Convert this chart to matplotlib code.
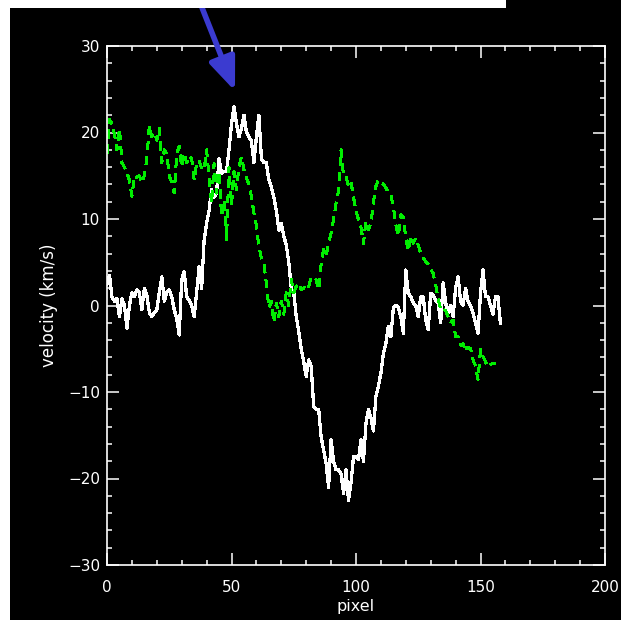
import numpy as np
import matplotlib
matplotlib.use("Agg")
import matplotlib.pyplot as plt
from matplotlib.patches import Rectangle
from matplotlib.ticker import MultipleLocator

# velocidade ao longo da fenda (linha branca) e segunda componente (verde tracejada)
pix_branco = np.arange(0, 159)
vel_branco = [
    2.5, 3.5, 1.0, 0.5, 0.8, -1.3, 0.8, 0.0, -2.6, 0.0,
    1.5, 1.0, 1.8, 1.5, -0.5, 2.0, 1.2, -0.8, -1.3, -0.8,
    -0.5, 1.5, 3.3, 0.5, 1.5, 1.8, 1.0, -0.5, -1.5, -3.4,
    3.0, 3.9, 1.0, 0.6, 0.0, -1.3, 1.5, 4.5, 2.0, 7.5,
    9.5, 11.0, 13.4, 12.5, 13.0, 17.0, 15.3, 15.5, 15.5, 18.0,
    21.0, 23.0, 21.0, 19.5, 20.5, 22.0, 20.0, 19.5, 19.0, 16.5,
    19.5, 22.0, 17.0, 16.5, 16.5, 14.5, 13.7, 12.5, 11.0, 8.7,
    9.5, 8.0, 7.0, 5.0, 2.0, 1.5, -1.3, -3.0, -5.0, -6.5,
    -8.2, -6.3, -7.0, -11.7, -12.0, -12.0, -15.2, -16.7, -18.3, -21.0,
    -15.5, -18.0, -19.0, -19.0, -19.5, -21.7, -19.0, -22.5, -20.5, -17.5,
    -17.5, -17.8, -15.5, -18.0, -13.6, -12.0, -13.0, -14.5, -10.5, -9.3,
    -7.8, -5.5, -4.4, -2.4, -3.6, -0.3, 0.0, -0.2, -1.3, -3.2,
    4.1, 1.4, 1.0, 0.3, 0.0, -1.3, 1.0, 1.0, -1.7, -2.8,
    1.4, 1.2, 0.6, 0.3, -2.0, 2.6, 0.3, -0.9, 0.0, -1.3,
    2.0, 3.3, 0.5, 0.0, 2.0, 0.5, 0.0, -0.9, -2.0, -3.2,
    1.4, 4.1, 1.0, 1.0, 0.0, -1.0, 1.0, 1.0, -2.1,
]

pix_verde = np.arange(0, 157)
vel_verde = [
    17.6, 21.5, 21.0, 19.8, 18.0, 20.5, 16.5, 16.0, 15.3, 14.5,
    12.6, 15.0, 14.8, 15.0, 14.2, 15.0, 17.0, 20.8, 19.5, 20.0,
    19.1, 20.5, 16.5, 18.0, 17.5, 15.0, 14.2, 13.0, 17.5, 18.4,
    16.0, 17.6, 16.5, 17.3, 17.0, 14.5, 16.5, 16.8, 15.8, 15.7,
    18.0, 14.7, 11.8, 16.4, 13.0, 15.5, 10.3, 12.2, 7.6, 16.0,
    11.6, 15.5, 13.4, 16.0, 17.2, 15.7, 14.7, 14.0, 12.6, 10.7,
    9.2, 6.8, 5.5, 5.0, 2.5, -0.3, 0.5, -2.0, 0.3, -1.3,
    0.5, -1.0, 1.5, 0.0, 3.0, 1.5, 2.2, 2.6, 1.8, 2.0,
    2.5, 2.2, 3.3, 3.3, 3.0, 1.8, 4.8, 6.5, 5.8, 7.2,
    8.4, 10.0, 11.8, 13.3, 18.0, 15.0, 14.9, 13.8, 14.3, 12.5,
    11.0, 9.9, 9.0, 7.2, 9.8, 8.8, 9.5, 12.0, 13.8, 14.5,
    14.2, 14.0, 13.6, 13.0, 12.8, 11.4, 9.3, 8.0, 10.5, 10.2,
    7.8, 6.3, 8.0, 7.2, 7.8, 7.0, 6.0, 5.5, 5.1, 4.8,
    4.2, 3.7, 2.4, 0.8, -0.5, -0.4, -0.6, -1.3, -2.0, -1.7,
    -3.6, -3.6, -4.6, -4.4, -5.3, -4.8, -5.0, -6.3, -7.0, -8.6,
    -5.1, -5.9, -6.5, -7.1, -6.8, -6.7, -6.7,
]

W, H = 621, 620
fig = plt.figure(figsize=(W / 100, H / 100), dpi=100, facecolor='black')

# faixas brancas da borda (esquerda e topo)
fig.patches.append(Rectangle((0, 0), 10 / W, 1, transform=fig.transFigure,
                             facecolor='white', edgecolor='none', zorder=0))
fig.patches.append(Rectangle((0, 1 - 8 / H), 506 / W, 8 / H, transform=fig.transFigure,
                             facecolor='white', edgecolor='none', zorder=0))

ax = fig.add_axes([107 / W, 55 / H, 498 / W, 519 / H])
ax.set_facecolor('black')

ax.plot(pix_branco, vel_branco, color='white', lw=1.6, antialiased=False)
ax.plot(pix_verde, vel_verde, color='#00ee00', lw=1.6, ls=(0, (4, 3)), antialiased=False)

ax.set_xlim(0, 200)
ax.set_ylim(-30, 30)
ax.xaxis.set_major_locator(MultipleLocator(50))
ax.xaxis.set_minor_locator(MultipleLocator(10))
ax.yaxis.set_major_locator(MultipleLocator(10))
ax.yaxis.set_minor_locator(MultipleLocator(2))

for s in ax.spines.values():
    s.set_color('white')
    s.set_linewidth(1.2)

ax.tick_params(which='both', direction='in', colors='white', top=True, right=True,
               labelsize=11, width=1.1)
ax.tick_params(which='major', length=8.5)
ax.tick_params(which='minor', length=3.6)
ax.tick_params(axis='x', which='major', pad=11)
ax.tick_params(axis='y', which='major', pad=5)

ax.set_xlabel('pixel', color='white', fontsize=11.5, labelpad=3)
ax.set_ylabel('velocity (km/s)', color='white', fontsize=12, labelpad=7)

# seta azul apontando o pico
ax.annotate('', xy=(235, H - 91), xycoords='figure pixels',
            xytext=(197, H + 5), textcoords='figure pixels',
            arrowprops=dict(arrowstyle='-|>,head_length=1.0,head_width=0.4',
                            lw=4, color='#3b3bd0', mutation_scale=20,
                            shrinkA=0, shrinkB=0),
            annotation_clip=False)

fig.savefig('out.png', dpi=100, facecolor=fig.get_facecolor())
